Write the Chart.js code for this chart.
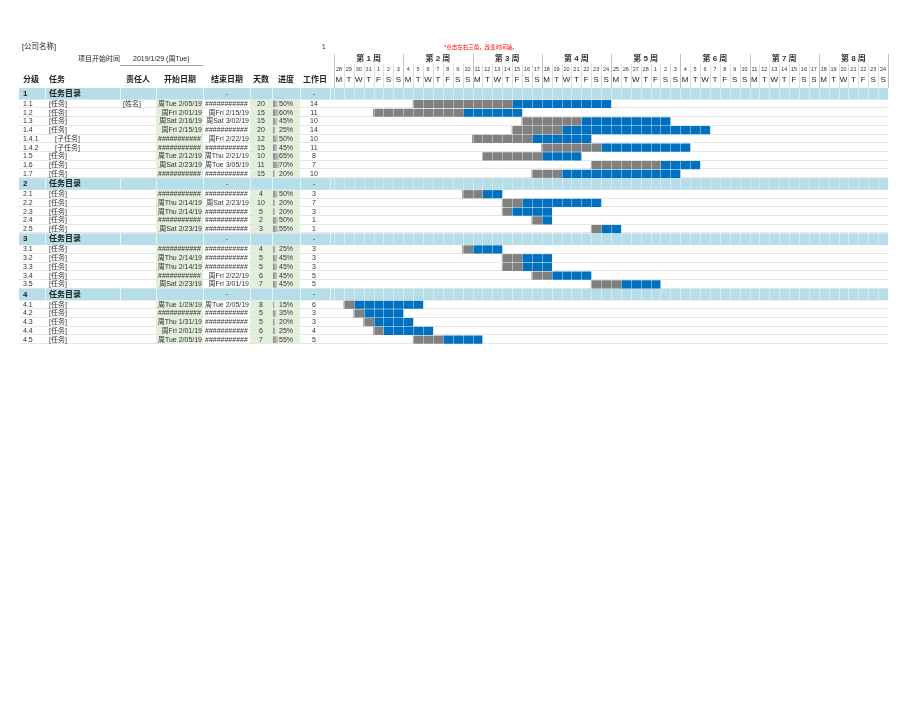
<!DOCTYPE html>
<html>
<head>
  <meta charset="utf-8">
  <script src="https://cdn.jsdelivr.net/npm/chart.js@4.4.1/dist/chart.umd.min.js"></script>
  <style>
    body { margin: 0; background: #fff; }
    #wrap { width: 920px; height: 711px; }
  </style>
</head>
<body>
  <div id="wrap">
    <canvas id="myChart" width="920" height="711"></canvas>
  </div>

  <script>
    // timeline
    const projectStart = new Date(2019, 0, 28);   // Monday of week 1
    const weekLabels = ["第 1 周", "第 2 周", "第 3 周", "第 4 周", "第 5 周", "第 6 周", "第 7 周", "第 8 周"];
    const dayLetters = ["M", "T", "W", "T", "F", "S", "S"];

    // sections and tasks
    const sectionIds = ["1", "2", "3", "4"];
    const sectionName = "任务目录";
    const taskIds = ["1.1", "1.2", "1.3", "1.4", "1.4.1", "1.4.2", "1.5", "1.6", "1.7",
      "2.1", "2.2", "2.3", "2.4", "2.5",
      "3.1", "3.2", "3.3", "3.4", "3.5",
      "4.1", "4.2", "4.3", "4.4", "4.5"];
    const taskNames = ["[任务]", "[任务]", "[任务]", "[任务]", "[子任务]", "[子任务]", "[任务]", "[任务]", "[任务]",
      "[任务]", "[任务]", "[任务]", "[任务]", "[任务]",
      "[任务]", "[任务]", "[任务]", "[任务]", "[任务]",
      "[任务]", "[任务]", "[任务]", "[任务]", "[任务]"];
    const owners = ["[姓名]", "", "", "", "", "", "", "", "", "", "", "", "", "", "", "", "", "", "", "", "", "", "", ""];
    const H = "###########";
    const startLabels = ["周Tue 2/05/19", "周Fri 2/01/19", "周Sat 2/16/19", "周Fri 2/15/19", H, H, "周Tue 2/12/19", "周Sat 2/23/19", H,
      H, "周Thu 2/14/19", "周Thu 2/14/19", H, "周Sat 2/23/19",
      H, "周Thu 2/14/19", "周Thu 2/14/19", H, "周Sat 2/23/19",
      "周Tue 1/29/19", H, "周Thu 1/31/19", "周Fri 2/01/19", "周Tue 2/05/19"];
    const endLabels = [H, "周Fri 2/15/19", "周Sat 3/02/19", H, "周Fri 2/22/19", H, "周Thu 2/21/19", "周Tue 3/05/19", H,
      H, "周Sat 2/23/19", H, H, H,
      H, H, H, "周Fri 2/22/19", "周Fri 3/01/19",
      "周Tue 2/05/19", H, H, H, H];
    // start = days after 2019-01-28
    const startDay = [8, 4, 19, 18, 14, 21, 15, 26, 20,
      13, 17, 17, 20, 26,
      13, 17, 17, 20, 26,
      1, 2, 3, 4, 8];
    const durations = [20, 15, 15, 20, 12, 15, 10, 11, 15,
      4, 10, 5, 2, 3,
      4, 5, 5, 6, 7,
      8, 5, 5, 6, 7];
    const progress = [50, 60, 45, 25, 50, 45, 65, 70, 20,
      50, 20, 20, 50, 55,
      25, 45, 45, 45, 45,
      15, 35, 20, 25, 55];
    const doneDays = [10, 9, 6, 5, 6, 6, 6, 7, 3,
      2, 2, 1, 1, 1,
      1, 2, 2, 2, 3,
      1, 1, 1, 1, 3];
    const workDays = [14, 11, 10, 14, 10, 11, 8, 7, 10,
      3, 7, 3, 1, 1,
      3, 3, 3, 5, 5,
      6, 3, 3, 4, 5];

    const FONT = '"Liberation Sans", "Noto Sans CJK SC", sans-serif';
    const SEC_H = 4 / 3;   // section rows are taller than task rows
    const totalDays = weekLabels.length * 7;

    // row list in y units
    const rows = [];
    let units = 0;
    sectionIds.forEach(sid => {
      rows.push({ type: "sec", id: sid, top: units, h: SEC_H });
      units += SEC_H;
      taskIds.forEach((tid, i) => {
        if (tid.split(".")[0] === sid) {
          rows.push({ type: "task", i: i, top: units, h: 1 });
          units += 1;
        }
      });
    });
    const taskRowMid = [];
    rows.forEach(r => { if (r.type === "task") taskRowMid[r.i] = r.top + 0.5; });

    const dayNums = [];
    for (let d = 0; d < totalDays; d++) {
      const dt = new Date(projectStart);
      dt.setDate(dt.getDate() + d);
      dayNums.push(dt.getDate());
    }

    // table column edges (x px)
    const tableLeft = 19;
    const colLines = [45, 120, 156, 203, 250, 272, 300, 330];

    function txt(ctx, s, x, y, size, align, bold, color) {
      ctx.font = (bold ? "bold " : "") + size + "px " + FONT;
      ctx.textAlign = align || "left";
      ctx.textBaseline = "middle";
      ctx.fillStyle = color || "#222";
      ctx.fillText(s, x, y);
    }

    const ganttTable = {
      id: "ganttTable",
      beforeDatasetsDraw(chart) {
        const { ctx, chartArea: a, scales: { x, y } } = chart;
        ctx.save();
        rows.forEach(r => {
          const y0 = y.getPixelForValue(r.top);
          const y1 = y.getPixelForValue(r.top + r.h);
          if (r.type === "sec") {
            ctx.fillStyle = "#b7dde8";
            ctx.fillRect(tableLeft, y0, a.right - tableLeft, y1 - y0);
            ctx.strokeStyle = "rgba(255,255,255,0.7)";
            ctx.lineWidth = 1;
            colLines.forEach(cx => {
              ctx.beginPath(); ctx.moveTo(cx + 0.5, y0); ctx.lineTo(cx + 0.5, y1); ctx.stroke();
            });
          } else {
            ctx.fillStyle = "#e2efda";
            ctx.fillRect(156, y0, 47, y1 - y0);
            ctx.fillRect(250, y0, 22, y1 - y0);
            ctx.fillRect(272, y0, 28, y1 - y0);
            // progress data bar
            const w = progress[r.i] / 100 * 10;
            const g = ctx.createLinearGradient(273, 0, 273 + w, 0);
            g.addColorStop(0, "#8a8a8a");
            g.addColorStop(1, "#d4d4d4");
            ctx.fillStyle = g;
            ctx.fillRect(273, y0 + 1, w, y1 - y0 - 2);
            ctx.strokeStyle = "#e6e6e6";
            ctx.lineWidth = 1;
            ctx.beginPath();
            ctx.moveTo(tableLeft, Math.round(y1) - 0.5);
            ctx.lineTo(a.right, Math.round(y1) - 0.5);
            ctx.stroke();
          }
        });
        ctx.restore();
      },
      afterDatasetsDraw(chart) {
        const { ctx, chartArea: a, scales: { x, y } } = chart;
        ctx.save();

        // day cell separators over bars and bands
        ctx.strokeStyle = "rgba(255,255,255,0.4)";
        ctx.lineWidth = 1;
        for (let d = 0; d <= totalDays; d++) {
          const px = Math.round(x.getPixelForValue(d)) + 0.5;
          ctx.beginPath(); ctx.moveTo(px, a.top); ctx.lineTo(px, a.bottom); ctx.stroke();
        }

        // page header
        txt(ctx, "[公司名称]", 22, 47, 7.5);
        txt(ctx, "1", 322, 47, 6.5);
        txt(ctx, "*点击左右三角，改变时间轴。", 481, 47, 5.5, "center", false, "#ff0000");
        txt(ctx, "项目开始时间", 78, 59, 7);
        txt(ctx, "2019/1/29 (周Tue)", 133, 59, 7);
        ctx.strokeStyle = "#a0a0a0";
        ctx.beginPath(); ctx.moveTo(120, 65.5); ctx.lineTo(203, 65.5); ctx.stroke();

        // column headers
        const hy = 80;
        txt(ctx, "分级", 23, hy, 8, "left", true);
        txt(ctx, "任务", 49, hy, 8, "left", true);
        txt(ctx, "责任人", 138, hy, 8, "center", true);
        txt(ctx, "开始日期", 180, hy, 8, "center", true);
        txt(ctx, "结束日期", 227, hy, 8, "center", true);
        txt(ctx, "天数", 261, hy, 8, "center", true);
        txt(ctx, "进度", 286, hy, 8, "center", true);
        txt(ctx, "工作日", 315, hy, 8, "center", true);

        // timeline header
        weekLabels.forEach((w, k) => {
          const x0 = x.getPixelForValue(k * 7);
          const x1 = x.getPixelForValue(k * 7 + 7);
          txt(ctx, w, (x0 + x1) / 2, 59, 8, "center", true, "#333");
        });
        for (let d = 0; d <= totalDays; d++) {
          const px = Math.round(x.getPixelForValue(d)) + 0.5;
          ctx.strokeStyle = d % 7 === 0 ? "#c4c4c4" : "#dedede";
          ctx.beginPath(); ctx.moveTo(px, d % 7 === 0 ? 54 : 64); ctx.lineTo(px, a.top); ctx.stroke();
        }
        dayNums.forEach((n, d) => {
          const cx = x.getPixelForValue(d + 0.5);
          txt(ctx, String(n), cx, 69.5, 5.5, "center", false, "#333");
          txt(ctx, dayLetters[d % 7], cx, 80, 8, "center", false, "#222");
        });

        // table rows
        rows.forEach(r => {
          const cy = y.getPixelForValue(r.top + r.h / 2);
          if (r.type === "sec") {
            txt(ctx, r.id, 23, cy, 8, "left", true);
            txt(ctx, sectionName, 49, cy, 8, "left", true);
            txt(ctx, "-", 227, cy, 7, "center");
            txt(ctx, "-", 314, cy, 7, "center");
          } else {
            const i = r.i;
            txt(ctx, taskIds[i], 23, cy, 7, "left", false, "#333");
            txt(ctx, taskNames[i], taskIds[i].split(".").length > 2 ? 55 : 49, cy, 7, "left", false, "#333");
            if (owners[i]) txt(ctx, owners[i], 123, cy, 7, "left", false, "#333");
            const s = startLabels[i];
            if (s[0] === "#") txt(ctx, s, 158, cy, 7, "left", false, "#333");
            else txt(ctx, s, 202, cy, 7, "right", false, "#333");
            const e = endLabels[i];
            if (e[0] === "#") txt(ctx, e, 205, cy, 7, "left", false, "#333");
            else txt(ctx, e, 249, cy, 7, "right", false, "#333");
            txt(ctx, String(durations[i]), 261, cy, 7, "center", false, "#333");
            txt(ctx, progress[i] + "%", 279, cy, 7, "left", false, "#333");
            txt(ctx, String(workDays[i]), 314, cy, 7, "center", false, "#333");
          }
        });
        ctx.restore();
      }
    };

    const doneData = taskIds.map((t, i) => ({ x: [startDay[i], startDay[i] + doneDays[i]], y: taskRowMid[i] }));
    const leftData = taskIds.map((t, i) => ({ x: [startDay[i] + doneDays[i], startDay[i] + durations[i]], y: taskRowMid[i] }));

    new Chart("myChart", {
      type: "bar",
      data: {
        datasets: [
          { label: "完成", data: doneData, backgroundColor: "#808080", grouped: false, barThickness: 7.5 },
          { label: "剩余", data: leftData, backgroundColor: "#0070c0", grouped: false, barThickness: 7.5 }
        ]
      },
      options: {
        indexAxis: "y",
        responsive: false,
        animation: false,
        layout: { padding: { left: 334, right: 32, top: 88, bottom: 367 } },
        scales: {
          x: { type: "linear", min: 0, max: totalDays, display: false },
          y: { type: "linear", min: 0, max: units, reverse: true, offset: false, display: false }
        },
        plugins: { legend: { display: false }, tooltip: { enabled: false } }
      },
      plugins: [ganttTable]
    });
  </script>
</body>
</html>
